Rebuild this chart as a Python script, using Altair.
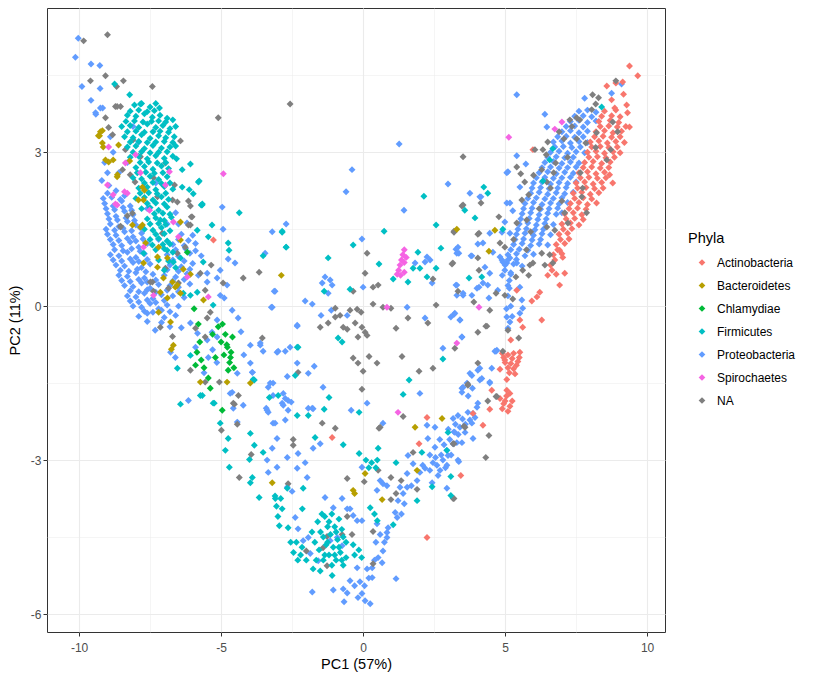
import altair as alt
import pandas as pd

PHYLA = ["Actinobacteria", "Bacteroidetes", "Chlamydiae", "Firmicutes",
         "Proteobacteria", "Spirochaetes", "NA"]
COLORS = ["#F8766D", "#B79F00", "#00BA38", "#00BFC4", "#619CFF", "#F564E3", "#7F7F7F"]

X_MAJOR = [-10, -5, 0, 5, 10]
X_MINOR = [-7.5, -2.5, 2.5, 7.5]
Y_MAJOR = [-6, -3, 0, 3]
Y_MINOR = [-4.5, -1.5, 1.5, 4.5]

# (PC1, PC2), one list per phylum
proteobacteria = [
    (-10.03, 5.22), (-10.13, 4.85), (-9.58, 4.72), (-9.27, 4.69), (-9.9, 4.28), (-9.26, 4.24),
    (-9.58, 4.01), (-9.41, 3.74), (-9.17, 3.86), (-9.25, 3.86), (-9.42, 3.77),
    (-9.0, 2.2), (-8.7, 2.25), (-8.4, 2.15), (-9.1, 2.0), (-8.8, 1.95), (-8.5, 2.05), (-8.2, 1.95),
    (-9.0, 1.8), (-8.7, 1.75), (-8.4, 1.85), (-8.1, 1.78), (-6.6, 1.82),
    (-8.9, 1.6), (-8.6, 1.55), (-8.3, 1.65), (-8.0, 1.58), (-6.5, 1.6), (-6.2, 1.62),
    (-9.0, 1.4), (-8.7, 1.38), (-8.4, 1.45), (-8.1, 1.35), (-7.8, 1.42), (-6.4, 1.4), (-6.0, 1.38),
    (-8.8, 1.2), (-8.5, 1.18), (-8.2, 1.25), (-7.9, 1.15), (-7.6, 1.22), (-6.7, 1.2), (-6.3, 1.18), (-5.9, 1.22),
    (-8.9, 1.0), (-8.6, 0.98), (-8.3, 1.05), (-8.0, 0.95), (-7.7, 1.02), (-6.9, 1.0), (-6.5, 0.97),
    (-6.1, 1.03), (-5.7, 0.98),
    (-8.7, 0.8), (-8.4, 0.78), (-8.1, 0.85), (-7.8, 0.75), (-7.5, 0.82), (-6.8, 0.8), (-6.4, 0.77), (-6.0, 0.83),
    (-8.6, 0.6), (-8.3, 0.58), (-8.0, 0.65), (-7.7, 0.55), (-7.4, 0.62), (-7.0, 0.6), (-6.6, 0.57),
    (-6.2, 0.63), (-5.8, 0.6),
    (-8.4, 0.4), (-8.1, 0.38), (-7.8, 0.45), (-7.5, 0.35), (-7.2, 0.42), (-6.8, 0.4), (-6.5, 0.37), (-6.1, 0.43),
    (-8.3, 0.2), (-8.0, 0.18), (-7.7, 0.25), (-7.4, 0.15), (-7.1, 0.22), (-6.7, 0.2), (-6.3, 0.17),
    (-8.1, 0.0), (-7.8, -0.02), (-7.5, 0.05), (-7.2, -0.05), (-6.9, 0.02), (-6.5, 0.0),
    (-7.9, -0.2), (-7.6, -0.14), (-7.0, -0.22), (-6.6, -0.18), (-7.32, -0.47), (-6.8, -0.4), (-6.4, -0.42),
    (-9.15, 2.1), (-8.85, 2.12), (-8.55, 2.08), (-9.05, 1.9), (-8.75, 1.88), (-8.45, 1.92), (-8.15, 1.87),
    (-8.95, 1.7), (-8.65, 1.68), (-8.35, 1.72), (-8.05, 1.67), (-9.05, 1.5), (-8.75, 1.48), (-8.45, 1.52),
    (-8.15, 1.47), (-7.85, 1.53), (-8.9, 1.3), (-8.6, 1.28), (-8.3, 1.32), (-8.0, 1.27), (-7.75, 1.31),
    (-6.5, 1.3), (-6.15, 1.28), (-8.75, 1.1), (-8.45, 1.08), (-8.15, 1.12), (-7.85, 1.07), (-6.6, 1.1),
    (-6.25, 1.12), (-5.9, 1.08), (-8.8, 0.9), (-8.5, 0.88), (-8.2, 0.92), (-7.9, 0.87), (-7.6, 0.91),
    (-6.7, 0.9), (-6.3, 0.88), (-8.55, 0.7), (-8.25, 0.68), (-7.95, 0.72), (-7.65, 0.67), (-6.9, 0.71),
    (-6.5, 0.68), (-6.1, 0.72), (-8.5, 0.5), (-8.2, 0.48), (-7.9, 0.52), (-7.6, 0.47), (-7.3, 0.51),
    (-6.7, 0.49), (-6.3, 0.52), (-8.2, 0.3), (-7.9, 0.28), (-7.6, 0.32), (-7.3, 0.27), (-6.9, 0.31),
    (-6.5, 0.28), (-8.2, 0.1), (-7.9, 0.08), (-7.6, 0.12), (-7.3, 0.07), (-7.0, 0.11), (-7.7, -0.1),
    (-7.4, -0.12), (-7.1, -0.08), (-6.8, -0.11), (-7.6, -0.3), (-7.1, -0.32),
    (-8.8, 3.0), (-8.6, 2.6), (-8.3, 2.8), (-7.9, 3.2), (-9.0, 2.6), (-8.9, 3.3), (-8.1, 3.5),
    (-7.3, 2.4), (-7.6, 1.9), (-6.9, 1.6), (-7.2, 1.3), (-9.2, 2.45), (-9.1, 2.8), (-8.95, 2.35),
    (-4.96, 1.93), (-2.71, 1.6), (-3.2, 1.45), (-4.93, 1.5), (-3.45, 1.03), (-4.75, 0.92), (-4.51, 0.84),
    (-5.03, 0.7), (-5.49, 0.64), (-5.14, 0.55), (-4.79, 0.41), (-5.49, 0.47), (-3.1, 0.29), (-3.2, -0.02),
    (-5.03, 0.21), (-4.89, 0.16), (-4.61, -0.08), (-4.4, -0.23), (-5.32, -0.51), (-5.14, -0.6),
    (-5.49, -0.66), (-5.9, -0.8), (-2.32, -0.37), (-3.97, -0.76), (-3.62, -0.72), (-3.03, -0.9),
    (-2.57, -0.8), (-3.97, -1.11), (-3.9, -1.29), (-4.43, -1.31), (-4.61, -1.68), (-3.17, -1.5),
    (-2.74, -1.8), (-2.53, -1.87), (-3.38, -2.03), (-6.15, -1.84), (-6.78, -0.9), (-6.61, -1.0),
    (-5.83, -0.53), (-6.08, -0.33), (-5.14, -0.27), (-5.3, -0.85), (-5.15, -1.1), (-5.45, -1.0),
    (-4.3, -0.5), (-4.2, -0.95), (-5.6, -1.3),
    (-4.68, -1.7), (-4.57, -1.99), (-4.22, -1.93), (-4.43, -2.26), (-3.34, -1.58), (-2.81, -1.7),
    (-2.85, -1.89), (-2.64, -2.03), (-3.34, -2.07), (-3.17, -2.28), (-3.03, -2.58), (-3.2, -2.77),
    (-3.38, -3.0), (-3.03, -3.14), (-3.34, -3.24), (-2.67, -2.95), (-2.67, -3.53), (-2.5, -3.61),
    (-2.74, -2.22), (-1.93, -1.99), (-1.76, -2.0), (-1.51, -2.68), (-1.76, -2.77), (-2.04, -3.05),
    (-2.32, -3.16), (-2.29, -2.87), (-1.97, -3.34), (-1.34, -3.73), (-1.05, -3.93), (-0.74, -3.75),
    (-0.56, -3.95), (-0.42, -2.03), (0.14, -1.89), (0.7, -2.28), (-0.04, -3.14), (0.6, -3.4),
    (0.84, -3.5), (-0.21, -4.18), (-0.04, -4.18), (-0.35, -4.08), (0.49, -4.24), (0.84, -4.41),
    (0.7, -4.77), (0.53, -4.9), (0.67, -5.0), (0.32, -5.1), (0.14, -5.12), (-0.21, -5.1), (-0.04, -5.6),
    (0.07, -5.74), (0.25, -5.8), (-0.18, -5.68), (-0.56, -5.59), (-0.7, -5.51), (-0.46, -5.35),
    (-1.05, -5.53), (-1.79, -5.57), (-0.67, -5.76), (1.16, -5.31), (0.32, -5.29), (-0.11, -5.37),
    (0.45, -4.6), (0.6, -4.45), (0.75, -4.6), (0.4, -4.95), (0.2, -5.3), (-0.3, -5.45), (0.05, -5.45),
    (-1.16, -4.57), (-0.91, -4.51), (-0.74, -4.67), (-1.93, -4.51), (-1.86, -4.82), (-1.58, -4.96),
    (-2.11, -4.57), (-2.29, -4.34), (-2.39, -4.12),
    (3.66, -1.5), (3.48, -1.68), (3.17, -2.19), (3.41, -2.36), (3.59, -2.46), (3.76, -2.22), (3.87, -2.09),
    (4.01, -1.97), (3.3, -2.66), (2.95, -2.81), (2.81, -3.0), (2.6, -3.1), (2.64, -3.3), (2.46, -3.05),
    (2.18, -3.16), (2.28, -2.58), (2.25, -2.32), (2.53, -2.36), (2.53, -2.75), (2.95, -3.55), (2.43, -3.44),
    (2.0, -3.24), (1.55, -3.53), (1.41, -3.65), (1.3, -3.53), (1.23, -3.79), (1.13, -4.02), (1.2, -4.12),
    (0.88, -4.32), (0.84, -4.51), (1.55, -3.26), (0.7, -3.46), (2.0, -1.7), (1.76, -3.07), (0.49, -3.59),
    (-0.46, -3.95), (-1.41, -1.58), (1.58, -2.91), (3.34, -3.0), (3.69, -2.07), (4.04, -1.89),
    (2.75, -2.9), (3.05, -2.6), (3.2, -2.45), (2.9, -3.15), (3.5, -2.2), (3.1, -2.9), (2.35, -3.2), (2.7, -2.6),
    (2.85, -2.7), (3.25, -2.3), (3.6, -2.3), (2.55, -2.95), (2.35, -2.9), (2.1, -3.1), (1.9, -3.4),
    (1.7, -3.5), (1.45, -3.85), (1.35, -4.05), (3.0, -2.4), (3.35, -2.5), (3.7, -1.75), (3.85, -1.6),
    (5.06, -0.21), (5.17, -0.31), (5.1, -0.43), (5.52, -0.14), (5.62, -0.04), (5.59, 0.12), (5.52, 0.37),
    (4.99, 0.7), (5.06, 0.84), (5.17, 0.94), (4.89, 0.9), (4.46, 0.64), (4.22, 0.45), (4.01, 0.35),
    (3.83, 0.21), (3.52, 0.25), (3.3, 0.21), (3.27, 0.41), (3.23, -0.14), (3.41, -0.27), (3.48, -0.6),
    (2.81, -0.82), (4.64, -0.88), (4.11, -1.21), (4.18, -1.41), (3.83, -1.35), (4.46, -1.5), (3.52, -1.58),
    (3.94, -2.17), (3.83, -2.28), (3.34, -2.13), (3.23, -2.46), (3.48, -2.66), (3.17, -2.68),
    (2.99, -2.91), (2.71, -3.2), (2.95, -3.1), (3.87, -2.58), (3.37, -3.03), (4.71, -0.86), (4.53, -1.21),
    (5.15, 0.5), (5.1, 0.2), (5.2, 0.0), (5.05, -0.05), (5.2, 0.65), (5.15, 0.35), (5.25, -0.2),
    (1.27, 3.16), (-0.39, 2.66), (-0.6, 2.23), (1.44, 1.87), (2.99, 2.38), (3.76, 2.2), (4.11, 2.13),
    (-0.04, 1.31), (-1.44, 0.45), (-1.34, 0.57), (-1.16, 0.51), (-1.09, 0.41), (-1.23, 0.25),
    (-3.13, 0.29), (0.0, 0.37), (2.18, 0.86), (2.36, 0.9), (2.25, 0.96), (2.43, 0.45), (1.83, 0.84),
    (3.27, 1.11), (3.37, 1.03), (3.83, 0.98), (4.04, 1.21), (4.46, 1.42), (4.29, 0.76), (3.3, 0.41),
    (3.52, 0.21), (4.08, 0.37), (4.39, 0.41), (4.43, 0.16), (4.74, 0.31), (-2.04, 0.1), (-1.79, 0.04),
    (-3.23, -0.02), (-1.48, -0.18), (-1.12, -0.08), (-0.56, -0.18), (1.55, -0.02), (2.18, -0.23),
    (3.2, -0.16), (3.41, -0.27), (-2.32, -0.39), (3.48, -0.6), (4.68, -0.88), (-2.74, -0.88),
    (-2.99, -0.88), (-3.52, -0.88), (-3.62, -0.76), (-1.72, -1.17), (-1.93, -1.31), (-2.32, -1.11),
    (-2.67, -1.37), (-3.9, -1.29), (3.48, -1.6), (-1.79, -1.99), (3.76, -1.31), (4.04, -1.25),
    (4.11, -1.44), (4.46, -1.48), (3.09, -0.21), (5.06, 2.6), (5.06, 2.01), (-3.27, -1.5), (-3.17, -1.74),
    (-2.81, -1.93), (-2.64, -1.84), (-3.41, -1.99), (-3.1, -2.28),
    (7.6, 3.8), (7.9, 3.82), (8.2, 3.78), (7.3, 3.6), (7.6, 3.62), (7.9, 3.58), (8.2, 3.61),
    (7.0, 3.4), (7.3, 3.42), (7.6, 3.38), (7.9, 3.41), (6.7, 3.2), (7.0, 3.22), (7.3, 3.18), (7.6, 3.21),
    (7.9, 3.19), (6.6, 3.0), (6.9, 3.02), (7.2, 2.98), (7.5, 3.01), (7.8, 2.99),
    (6.4, 2.8), (6.7, 2.82), (7.0, 2.78), (7.3, 2.81), (7.6, 2.79), (6.2, 2.6), (6.5, 2.62), (6.8, 2.58),
    (7.1, 2.61), (7.4, 2.59), (6.0, 2.4), (6.3, 2.42), (6.6, 2.38), (6.9, 2.41), (7.2, 2.39), (7.5, 2.42),
    (5.9, 2.2), (6.2, 2.22), (6.5, 2.18), (6.8, 2.21), (7.1, 2.19), (7.4, 2.22),
    (5.7, 2.0), (6.0, 2.02), (6.3, 1.98), (6.6, 2.01), (6.9, 1.99), (7.2, 2.02),
    (5.6, 1.8), (5.9, 1.82), (6.2, 1.78), (6.5, 1.81), (6.8, 1.79), (7.0, 1.82),
    (5.5, 1.6), (5.8, 1.62), (6.1, 1.58), (6.4, 1.61), (6.7, 1.59), (5.4, 1.4), (5.7, 1.42), (6.0, 1.38),
    (6.3, 1.41), (6.6, 1.39), (5.3, 1.2), (5.6, 1.22), (5.9, 1.18), (6.2, 1.21), (6.5, 1.19),
    (5.1, 1.0), (5.4, 1.02), (5.7, 0.98), (6.0, 1.01), (5.0, 0.8), (5.3, 0.82), (5.6, 0.78),
    (4.9, 0.6), (5.2, 0.62), (5.1, 0.4),
    (7.45, 3.7), (7.75, 3.71), (8.05, 3.69), (7.15, 3.5), (7.45, 3.51), (7.75, 3.49), (6.85, 3.3),
    (7.15, 3.31), (7.45, 3.29), (7.75, 3.3), (6.75, 3.1), (7.05, 3.11), (7.35, 3.09), (7.65, 3.1),
    (6.5, 2.9), (6.8, 2.91), (7.1, 2.89), (7.4, 2.9), (6.3, 2.7), (6.6, 2.71), (6.9, 2.69), (7.2, 2.7),
    (7.5, 2.71), (6.1, 2.5), (6.4, 2.51), (6.7, 2.49), (7.0, 2.5), (7.3, 2.51), (5.95, 2.3), (6.25, 2.31),
    (6.55, 2.29), (6.85, 2.3), (7.15, 2.31), (5.8, 2.1), (6.1, 2.11), (6.4, 2.09), (6.7, 2.1), (7.0, 2.11),
    (5.65, 1.9), (5.95, 1.91), (6.25, 1.89), (6.55, 1.9), (6.85, 1.91), (5.55, 1.7), (5.85, 1.71),
    (6.15, 1.69), (6.45, 1.7), (5.45, 1.5), (5.75, 1.51), (6.05, 1.49), (6.35, 1.5), (5.35, 1.3),
    (5.65, 1.31), (5.95, 1.29), (6.25, 1.3), (5.2, 1.1), (5.5, 1.11), (5.8, 1.09), (5.1, 0.9), (5.4, 0.91),
    (7.8, 4.05), (8.75, 4.15), (9.1, 4.33), (5.41, 4.12), (6.4, 3.74), (6.47, 3.49), (5.41, 2.93),
    (5.73, 2.77), (5.1, 2.62), (5.52, 2.32), (5.17, 2.01), (5.27, 1.86), (4.15, 2.13), (4.99, 1.64),
    (4.89, 1.44), (5.17, 1.42), (4.22, 1.23), (3.34, 1.15), (3.3, 1.03), (3.8, 0.98), (4.57, 1.05),
    (4.82, 0.96), (4.92, 0.86), (5.41, 0.84),
]

actinobacteria = [
    (8.5, 3.8), (8.9, 3.82), (8.3, 3.6), (8.7, 3.62), (9.0, 3.58), (8.2, 3.4), (8.5, 3.42), (8.8, 3.38),
    (9.1, 3.41), (8.0, 3.2), (8.3, 3.22), (8.6, 3.18), (8.9, 3.21), (9.2, 3.19), (7.9, 3.0), (8.2, 3.02),
    (8.5, 2.98), (8.8, 3.01), (9.05, 2.99), (7.8, 2.8), (8.1, 2.82), (8.4, 2.78), (8.7, 2.81),
    (7.6, 2.6), (7.9, 2.62), (8.2, 2.58), (8.5, 2.61), (7.5, 2.4), (7.8, 2.42), (8.1, 2.38), (8.4, 2.41),
    (7.4, 2.2), (7.7, 2.22), (8.0, 2.18), (8.3, 2.21), (7.3, 2.0), (7.6, 2.02), (7.9, 1.98),
    (7.1, 1.8), (7.4, 1.82), (7.7, 1.78), (7.0, 1.6), (7.3, 1.62), (7.6, 1.58), (6.9, 1.4), (7.2, 1.42),
    (6.8, 1.2), (7.1, 1.22), (6.7, 1.0), (7.0, 1.02), (6.6, 0.8), (6.5, 0.6), (6.8, 0.62),
    (8.4, 3.7), (8.75, 3.71), (9.05, 3.69), (8.35, 3.5), (8.65, 3.51), (8.95, 3.49), (9.25, 3.5),
    (8.15, 3.3), (8.45, 3.31), (8.75, 3.29), (9.05, 3.3), (8.05, 3.1), (8.35, 3.11), (8.65, 3.09),
    (8.95, 3.1), (7.95, 2.9), (8.25, 2.91), (8.55, 2.89), (8.85, 2.9), (7.75, 2.7), (8.05, 2.71),
    (8.35, 2.69), (8.65, 2.7), (7.65, 2.5), (7.95, 2.51), (8.25, 2.49), (8.55, 2.5), (7.55, 2.3),
    (7.85, 2.31), (8.15, 2.29), (8.45, 2.3), (7.45, 2.1), (7.75, 2.11), (8.05, 2.09), (7.25, 1.9),
    (7.55, 1.91), (7.85, 1.89), (7.15, 1.7), (7.45, 1.71), (7.75, 1.69), (7.05, 1.5), (7.35, 1.51),
    (6.95, 1.3), (7.25, 1.31), (6.85, 1.1), (6.75, 0.9), (6.65, 0.7),
    (9.38, 4.68), (9.67, 4.49), (8.58, 4.29), (8.9, 4.35), (9.14, 4.37), (9.17, 4.13), (8.75, 4.02),
    (8.86, 3.86), (9.28, 3.92), (9.31, 3.77), (9.38, 3.49), (8.79, 2.4), (8.22, 2.01), (8.68, 2.56),
    (7.03, 0.95), (6.92, 1.09), (6.29, -0.27), (6.12, 0.18), (6.22, 0.27), (5.94, 0.1), (5.41, 0.31),
    (6.92, 0.41), (7.1, 0.64), (5.52, -0.27), (5.62, -0.41), (5.2, -0.66), (5.98, 3.05),
    (4.9, -0.92), (5.1, -0.95), (5.3, -0.92), (5.5, -1.0), (5.0, -1.1), (5.2, -1.12), (5.4, -1.15),
    (5.15, -1.3), (5.35, -1.32), (5.52, -0.9), (5.06, -1.43), (4.82, -1.23), (5.06, -1.64), (5.17, -1.7),
    (4.82, -1.8), (5.0, -1.85), (5.17, -1.95), (4.9, -2.0), (4.53, -1.64), (4.46, -2.01), (3.87, -2.09),
    (4.22, -2.32), (4.99, -1.05), (5.25, -1.02), (5.45, -1.08), (4.95, -1.0), (5.1, -1.2), (5.3, -1.22),
    (5.05, -1.75), (4.95, -1.9), (5.1, -2.05), (5.25, -1.85),
    (-1.09, -2.56), (2.25, -2.17), (1.97, -2.68), (3.44, -3.3), (2.25, -4.51), (-5.27, 1.29),
]

na_phylum = [
    (-9.0, 5.29), (-9.84, 5.17), (-9.6, 4.39), (-9.07, 4.49), (-8.44, 4.39), (-8.68, 4.28), (-7.42, 4.28),
    (-2.57, 3.94), (-5.1, 3.67), (-9.07, 3.67), (-8.72, 3.89), (-8.54, 3.89), (-8.96, 3.48), (-8.82, 3.34),
    (-6.43, 3.22), (-8.37, 3.05), (-6.96, 2.79), (-6.64, 2.36), (-6.54, 2.03), (-6.15, 2.05), (-6.08, 1.95),
    (-6.05, 1.74), (-8.54, 1.56), (-8.3, 1.76),
    (-8.66, 3.89), (-8.1, 3.24), (-7.84, 2.91), (-8.47, 2.66), (-8.2, 2.56), (-8.03, 2.42), (-7.38, 2.5),
    (-7.24, 2.13), (-6.71, 2.07), (-8.12, 1.81), (-8.54, 1.54), (-6.08, 1.58), (-7.07, 1.42), (-6.26, 1.15),
    (-6.96, 0.74), (-7.42, 0.47), (-5.73, 0.64), (-5.56, 0.31), (-4.93, 0.45),
    (-6.02, 1.74), (-6.15, 1.58), (-5.35, 0.8), (-4.22, 0.55), (-3.66, 0.66), (-5.38, -0.12),
    (-5.49, -0.23), (-5.9, -0.43), (-7.14, -0.41), (-6.71, -0.59), (-5.56, -0.6), (-3.55, -0.62),
    (-6.08, -1.25), (-5.56, -1.48), (-5.06, -1.48), (-4.57, -1.89), (-7.49, 0.47), (-7.38, 0.29),
    (-6.85, 0.35), (-6.54, 1.03), (-6.5, 0.45), (-2.29, -1.29),
    (3.52, 2.91), (3.48, 1.95), (4.15, 2.01), (3.2, 1.46), (4.04, 1.4), (4.04, 0.94), (3.13, 0.82),
    (4.08, 0.7), (3.34, 0.29), (3.9, 0.08), (0.14, 1.03), (0.07, 0.64), (0.53, 0.41), (0.35, 0.37),
    (-0.35, 0.29), (0.35, 0.04), (0.7, -0.02), (0.98, -0.04), (2.57, 0.02), (2.46, 0.53), (1.58, -0.23),
    (2.28, -0.33), (1.16, -0.43), (-0.98, -0.04), (-0.46, -0.08), (-0.21, -0.06), (-0.07, -0.12),
    (-0.81, -0.18), (-0.98, -0.21), (-1.23, -0.33), (-1.51, -0.41), (-0.7, -0.41), (-0.56, -0.45),
    (-0.28, -0.33), (-0.04, -0.41), (0.07, -0.51), (0.14, -0.57), (-0.18, -0.6), (4.04, -0.51),
    (4.32, -0.39), (3.23, -0.82), (1.37, -0.98), (-0.35, -1.01), (-0.18, -1.11), (0.21, -0.98),
    (0.49, -1.11), (0.0, -1.27), (1.97, -1.27), (2.46, -1.21), (4.04, -1.11), (3.69, -1.52),
    (-0.04, -1.62), (4.71, -1.76), (1.41, -2.15), (-1.44, -2.28), (-0.98, -2.38), (0.6, -2.36),
    (0.56, -2.38), (-2.46, -2.6), (-2.46, -2.71), (-3.94, -2.89), (-4.36, -3.34), (-2.64, -3.46),
    (-0.56, -3.36), (0.04, -3.42), (0.53, -3.2), (0.98, -3.34), (1.34, -3.4), (1.16, -3.65),
    (0.98, -3.77), (1.76, -2.85), (1.9, -3.57), (3.17, -3.75), (3.59, -2.36), (3.69, -1.54),
    (3.17, -2.68), (-0.56, -4.1), (-0.74, -4.45), (-1.27, -4.49), (-0.39, -4.45), (-1.41, -4.71),
    (-2.0, -4.77), (0.35, -4.39), (0.35, -5.02), (-1.27, -5.06), (-4.99, -2.42), (-4.43, -2.3),
    (-4.53, -1.91), (-4.39, -1.74),
    (4.68, 0.25), (4.99, 0.21), (5.27, 0.14), (4.46, -0.08), (4.36, -0.39), (5.48, -0.62), (5.1, -0.47),
    (4.92, -0.88), (4.68, -1.76), (4.39, -1.85), (3.55, -2.34), (4.43, -2.52), (4.32, -2.95), (3.2, -2.68),
    (3.2, -3.75), (5.98, 0.84), (6.4, 0.8), (6.29, 1.03), (6.57, 1.0), (5.62, 0.7), (5.38, 0.57), (5.83, 0.6),
    (8.08, 4.12), (8.29, 4.06), (8.19, 3.94), (8.05, 3.83), (8.9, 4.39), (7.28, 3.63), (7.52, 3.67),
    (7.63, 3.63), (8.22, 3.38), (8.79, 3.59), (8.96, 3.4), (8.72, 3.05), (8.58, 2.85), (8.19, 3.09),
    (7.84, 3.18), (7.52, 3.26), (7.07, 3.26), (6.5, 3.2), (6.33, 3.05), (6.05, 3.05), (5.41, 2.71),
    (6.78, 2.79), (6.29, 2.66), (5.55, 2.58), (5.69, 2.42), (6.47, 2.42), (6.71, 2.6), (7.73, 2.3),
    (7.7, 2.13), (7.87, 1.82), (5.83, 2.17), (5.59, 2.07), (4.78, 1.74), (5.41, 1.62), (5.76, 1.68),
    (6.47, 1.54), (6.75, 1.48), (7.1, 1.82), (7.21, 1.62), (3.2, 1.44), (4.08, 1.42), (4.82, 1.23),
    (4.99, 1.15), (5.87, 0.8), (6.68, 0.84), (3.52, 1.97), (3.16, 0.84),
    (6.9, 3.4), (7.2, 2.9), (6.6, 2.3), (7.0, 2.05), (6.2, 1.9), (5.9, 1.45), (6.45, 2.95), (7.35, 3.5),
    (7.65, 2.6), (6.0, 2.55), (5.3, 1.3), (5.75, 1.1),
]

firmicutes = [
    (-8.05, 3.92), (-7.8, 3.95), (-7.5, 3.88), (-7.3, 3.95),
    (-8.3, 3.72), (-8.0, 3.7), (-7.7, 3.75), (-7.42, 3.68), (-7.15, 3.72), (-6.9, 3.66),
    (-8.5, 3.5), (-8.2, 3.52), (-7.9, 3.48), (-7.6, 3.55), (-7.3, 3.48), (-7.05, 3.52), (-6.8, 3.46),
    (-8.4, 3.3), (-8.1, 3.28), (-7.8, 3.34), (-7.5, 3.27), (-7.2, 3.32), (-6.95, 3.28), (-6.65, 3.3),
    (-8.3, 3.1), (-8.0, 3.12), (-7.7, 3.07), (-7.4, 3.13), (-7.1, 3.08), (-6.8, 3.1),
    (-8.2, 2.9), (-7.9, 2.92), (-7.6, 2.87), (-7.3, 2.93), (-7.0, 2.88), (-6.7, 2.92),
    (-8.0, 2.7), (-7.7, 2.72), (-7.4, 2.67), (-7.1, 2.73), (-6.85, 2.68),
    (-8.1, 2.5), (-7.8, 2.48), (-7.5, 2.53), (-7.2, 2.47), (-6.9, 2.52),
    (-7.9, 2.3), (-7.6, 2.32), (-7.3, 2.27), (-7.0, 2.33), (-6.7, 2.28),
    (-8.0, 2.1), (-7.7, 2.12), (-7.4, 2.07), (-7.1, 2.13), (-6.85, 2.08),
    (-7.8, 1.9), (-7.5, 1.92), (-7.2, 1.87), (-6.9, 1.93), (-7.6, 1.7), (-7.3, 1.72), (-7.0, 1.67),
    (-6.75, 1.73), (-7.7, 1.5), (-7.4, 1.48), (-7.1, 1.53), (-6.8, 1.47), (-7.5, 1.3), (-7.2, 1.32),
    (-6.9, 1.27), (-7.3, 1.1), (-7.0, 1.12), (-6.7, 1.05), (-7.2, 0.9), (-6.85, 0.88), (-7.0, 0.7),
    (-6.6, 0.75),
    (-8.2, 3.8), (-7.9, 3.82), (-7.6, 3.79), (-7.35, 3.81), (-8.35, 3.6), (-8.05, 3.61), (-7.75, 3.59),
    (-7.45, 3.6), (-7.2, 3.61), (-6.95, 3.59), (-8.3, 3.4), (-8.0, 3.41), (-7.7, 3.39), (-7.4, 3.4),
    (-7.15, 3.41), (-6.85, 3.39), (-8.2, 3.2), (-7.9, 3.21), (-7.6, 3.19), (-7.3, 3.2), (-7.0, 3.21),
    (-6.7, 3.19), (-8.1, 3.0), (-7.8, 3.01), (-7.5, 2.99), (-7.2, 3.0), (-6.9, 3.01), (-7.85, 2.8),
    (-7.55, 2.81), (-7.25, 2.79), (-6.95, 2.8), (-7.95, 2.6), (-7.65, 2.61), (-7.35, 2.59), (-7.05, 2.6),
    (-7.7, 2.4), (-7.4, 2.41), (-7.1, 2.39), (-6.8, 2.4), (-7.85, 2.2), (-7.55, 2.21), (-7.25, 2.19),
    (-6.95, 2.2), (-7.6, 2.0), (-7.3, 2.01), (-7.0, 1.99), (-7.35, 1.8), (-7.05, 1.81), (-6.8, 1.79),
    (-7.5, 1.6), (-7.2, 1.61), (-6.95, 1.59), (-7.3, 1.4), (-7.0, 1.41), (-7.05, 1.2), (-6.8, 1.21),
    (-8.75, 4.33), (-8.22, 4.12), (-7.84, 3.94), (-7.17, 3.86),
    (-6.7, 3.63), (-6.6, 3.5), (-6.6, 3.12), (-6.57, 2.87), (-6.08, 2.77), (-6.37, 2.66), (-5.77, 2.44),
    (-6.37, 2.32), (-6.12, 2.27), (-5.98, 2.19), (-5.7, 1.97), (-4.36, 1.82), (-5.8, 2.42), (-5.66, 1.99),
    (-7.73, 1.03), (-7.42, 1.19), (-6.9, 1.09), (-6.68, 0.86), (-6.43, 0.94), (-6.08, 0.21), (-6.33, 0.25),
    (-5.84, 0.27), (-7.14, 1.68), (-5.84, 1.48), (-5.45, 1.35), (-5.63, 0.86), (-5.32, 1.58), (-5.67, 1.97),
    (-4.72, 1.09), (-4.75, 1.23), (-2.85, 1.44), (-2.71, 1.15), (-5.28, 0.02), (-6.08, -0.96),
    (-6.54, -1.21), (-5.73, -1.74), (-6.43, -1.91), (-5.28, -1.89), (-3.83, -1.44), (-2.32, -0.8),
    (-5.66, -1.74), (-5.24, -1.89), (-5.03, -2.28), (-4.75, -2.58), (-4.85, -2.81), (-4.71, -3.14),
    (-3.97, -2.48), (-3.83, -2.71), (-4.0, -2.99), (-3.9, -3.34), (-3.97, -3.44), (-3.66, -3.73),
    (-3.52, -2.85), (-2.99, -1.74), (-3.3, -1.78), (-2.32, -2.13), (-1.69, -2.56), (-1.37, -2.01),
    (-1.2, -1.78), (-0.7, -2.7), (-0.14, -2.87), (0.53, -2.77), (-0.14, -2.07), (1.41, -1.72),
    (1.16, -3.05), (2.07, -2.85), (2.43, -3.52), (1.06, -4.26), (1.9, -3.79), (-2.67, -3.55),
    (-2.11, -3.55), (-2.14, -3.95), (-2.95, -4.28), (-2.64, -4.32), (-1.76, -5.12), (-1.09, -5.25),
    (-1.51, -5.16), (-3.09, -3.75), (2.99, -2.46), (3.09, -3.69),
    (-1.35, -4.1), (-1.1, -4.05), (-0.85, -4.15), (-1.25, -4.3), (-1.0, -4.3), (-0.75, -4.35),
    (-1.4, -4.5), (-1.3, -4.65), (-1.05, -4.7), (-0.8, -4.8), (-0.6, -4.9), (-1.2, -4.85), (-0.95, -4.95),
    (-0.7, -5.05), (-1.1, -5.05), (-1.35, -4.85), (-0.6, -4.6), (-0.9, -4.55),
    (-1.2, -4.2), (-0.95, -4.4), (-1.15, -4.45), (-0.7, -4.5), (-1.25, -4.6), (-0.85, -4.7), (-1.0, -4.85),
    (-0.75, -4.95), (-1.4, -4.95), (-1.5, -4.4), (-1.65, -4.95),
    (-1.7, -4.6), (-1.55, -4.75), (-1.8, -4.4), (-1.6, -4.2), (-1.45, -4.05),
    (-3.1, -3.7), (-2.9, -3.75), (-3.05, -3.9), (-2.85, -3.95), (-3.0, -4.1),
    (-2.55, -4.6), (-2.35, -4.6), (-2.15, -4.7), (-2.45, -4.8), (-2.2, -4.85), (-2.0, -4.95), (-2.3, -4.95),
    (0.1, -3.0), (0.3, -3.05), (0.5, -3.0), (0.2, -3.15), (0.45, -3.15),
    (-0.35, -4.65), (-0.15, -4.75), (-0.05, -4.9), (-0.3, -4.85), (0.25, -3.93), (0.4, -4.05), (0.5, -4.18),
    (-2.85, 1.46), (-2.71, 1.15), (-3.52, 0.98), (-1.23, 0.94), (-0.35, 1.19), (0.74, 1.46), (0.56, 0.82),
    (1.06, 0.53), (1.58, 0.47), (1.76, 0.74), (2.0, 0.74), (1.93, 1.05), (2.25, 0.57), (2.57, 0.74),
    (2.74, 1.13), (2.57, 1.58), (2.14, 2.14), (3.58, 1.87), (3.94, 1.72), (4.25, 2.32), (4.39, 2.2),
    (3.73, 0.55), (4.18, 0.57), (-0.46, 0.33), (-0.88, -0.62), (-0.74, -0.7), (-1.37, 0.29),
    (-2.29, -0.8), (2.81, -1.03), (1.62, -1.44), (-3.87, -1.43), (-2.39, -1.35), (-1.93, -2.13),
    (6.68, 3.07), (6.33, 2.44), (8.4, 3.88), (4.92, 1.5), (6.57, 2.85), (2.95, -2.81), (3.09, -3.32),
]

bacteroidetes = [
    (-9.25, 3.4), (-9.32, 3.32), (-9.18, 3.18), (-9.15, 3.1), (-8.96, 2.81), (-8.8, 2.85), (-8.66, 2.52),
    (-7.77, 2.32), (-7.73, 2.07), (-7.91, 2.07), (-8.12, 1.58), (-7.84, 1.54), (-7.66, 1.23), (-7.2, 1.15),
    (-7.24, 0.96), (-6.89, 0.94), (-7.73, 0.84), (-7.24, 0.76), (-7.03, 0.55), (-6.71, 0.47), (-6.61, 0.37),
    (-6.43, 0.25), (-7.14, 0.27), (-6.89, 0.16), (-6.43, 1.64), (-8.61, 3.14), (-9.28, 3.32), (-9.18, 3.42),
    (-9.07, 2.85), (-8.22, 2.83), (-8.65, 2.56), (-7.7, 2.26), (-7.77, 1.58), (-6.43, 1.29), (-6.33, 0.72),
    (-6.54, 0.41), (-7.2, -0.12), (-6.78, -0.31), (-6.08, 0.62), (-5.62, 0.12), (-6.68, -0.76),
    (-6.75, -0.84), (-5.73, -1.48), (-4.79, -1.48), (-3.97, -1.5), (-2.88, 0.6), (3.3, 1.5), (4.64, 1.48),
    (4.43, 1.07), (2.78, -2.19), (1.83, -2.36), (0.07, -3.26), (-0.35, -3.59), (-0.3, -3.65), (0.67, -3.77),
    (1.9, -3.2), (-3.2, -3.44),
]

chlamydiae = [
    (-4.95, -0.35), (-4.85, -0.55), (-4.8, -0.75), (-4.65, -0.9), (-4.9, -0.95), (-4.7, -1.1),
    (-4.55, -1.2), (-4.75, -1.25), (-4.6, -0.6), (-5.0, -0.7), (-5.85, -0.9), (-5.7, -1.05), (-5.9, -1.15),
    (-5.6, -1.2), (-5.75, -0.7), (-5.95, -0.05), (-5.8, -0.35), (-5.45, -1.4), (-5.38, -1.6), (-4.96, -2.03),
    (-5.3, -0.55), (-5.2, -1.0), (-5.1, -0.4), (-6.19, 1.05), (-4.78, -0.8), (-4.67, -1.0),
]

spirochaetes = [
    (-8.96, 3.1), (-9.0, 2.36), (-8.8, 2.17), (-8.66, 1.97), (-8.3, 2.2), (-8.01, 2.95), (-8.37, 2.79),
    (-7.84, 2.6), (-6.82, 2.62), (-6.96, 2.36), (-4.92, 2.58), (-7.52, 1.87), (-7.73, 1.15), (-6.68, 1.64),
    (-6.5, 1.35), (-7.38, 0.21), (-6.19, 0.57), (-8.72, 1.99), (-8.4, 2.23), (-5.45, 0.18),
    (1.45, 1.1), (1.4, 1.0), (1.35, 0.9), (1.3, 0.8), (1.25, 0.7), (1.2, 0.62), (1.32, 0.6), (1.45, 0.66),
    (1.52, 0.95), (1.45, 0.85),
    (7.0, 3.59), (6.75, 3.45), (5.13, 3.29), (1.23, -2.07), (4.08, -0.02), (3.3, -0.72), (0.84, -0.02),
]

draw_order = [
    ("Proteobacteria", proteobacteria),
    ("Actinobacteria", actinobacteria),
    ("NA", na_phylum),
    ("Firmicutes", firmicutes),
    ("Bacteroidetes", bacteroidetes),
    ("Chlamydiae", chlamydiae),
    ("Spirochaetes", spirochaetes),
]

rows = []
for name, pts in draw_order:
    for x, y in pts:
        rows.append((x, y, name))
df = pd.DataFrame(rows, columns=["PC1", "PC2", "Phyla"])
df["n"] = range(len(df))

x_vals = sorted(X_MAJOR + X_MINOR)
y_vals = sorted(Y_MAJOR + Y_MINOR)

x_axis = alt.Axis(
    values=x_vals,
    labelExpr="abs(datum.value) % 5 == 0 ? toString(datum.value) : ''",
    tickOpacity={"condition": {"test": "abs(datum.value) % 5 != 0", "value": 0}, "value": 1},
    gridWidth={"condition": {"test": "abs(datum.value) % 5 != 0", "value": 0.5}, "value": 1.1},
    labelOverlap=False,
    labelPadding=6,
)
y_axis = alt.Axis(
    values=y_vals,
    labelExpr="abs(datum.value) % 3 == 0 ? toString(datum.value) : ''",
    tickOpacity={"condition": {"test": "abs(datum.value) % 3 != 0", "value": 0}, "value": 1},
    gridWidth={"condition": {"test": "abs(datum.value) % 3 != 0", "value": 0.5}, "value": 1.1},
    labelOverlap=False,
    titlePadding=8,
)

chart = alt.Chart(df).mark_point(shape="diamond", filled=True, size=48, opacity=1).encode(
    x=alt.X("PC1:Q", title="PC1 (57%)",
            scale=alt.Scale(domain=[-11.13, 10.63], nice=False, zero=False), axis=x_axis),
    y=alt.Y("PC2:Q", title="PC2 (11%)",
            scale=alt.Scale(domain=[-6.35, 5.81], nice=False, zero=False), axis=y_axis),
    color=alt.Color("Phyla:N", scale=alt.Scale(domain=PHYLA, range=COLORS),
                    legend=alt.Legend(title="Phyla", orient="none", legendX=641, legendY=224)),
    order=alt.Order("n:Q"),
).properties(
    width=618,
    height=624,
    autosize=alt.AutoSizeParams(type="none"),
    padding={"left": 39, "top": 0, "right": 140, "bottom": 40},
).configure_view(
    stroke="#333333", strokeWidth=1
).configure_axis(
    domain=False,
    gridColor="#EBEBEB",
    tickColor="#333333",
    tickSize=4,
    labelColor="#4D4D4D",
    labelFont="Liberation Sans",
    labelFontSize=12,
    labelPadding=2,
    titleFont="Liberation Sans",
    titleFontSize=14.5,
    titleFontWeight="normal",
    titleColor="black",
    titlePadding=4,
).configure_legend(
    titleFont="Liberation Sans",
    titleFontSize=14.5,
    titleFontWeight="normal",
    titleColor="black",
    titlePadding=10,
    labelFont="Liberation Sans",
    labelFontSize=12,
    labelColor="black",
    symbolType="diamond",
    symbolSize=45,
    symbolStrokeWidth=0,
    symbolOffset=8,
    labelOffset=9,
    rowPadding=11,
)

chart.save("out.html", embed_options={"renderer": "svg", "actions": False})
